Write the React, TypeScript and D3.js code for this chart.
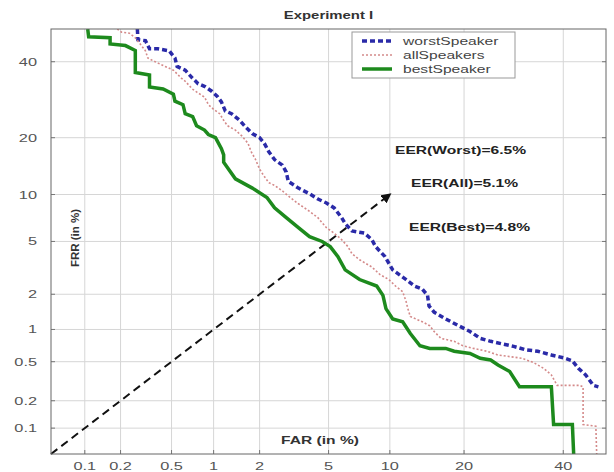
import React from 'react';
import * as d3 from 'd3';

// DET curves, values in percent (FAR, FRR)
const worstFar = [0.273, 0.276, 0.316, 0.34, 0.394, 0.48, 0.53, 0.55, 0.63, 0.71, 0.78, 0.87, 0.97, 1.06, 1.13, 1.2, 1.32, 1.49, 1.64, 1.8, 2.0, 2.14, 2.28, 2.47, 2.75, 2.9, 2.98, 3.41, 3.94, 4.38, 4.87, 5.35, 5.85, 6.1, 6.6, 7.6, 8.25, 8.6, 9.5, 10.3, 11.8, 12.8, 13.8, 14.5, 14.7, 15.4, 17.1, 19.1, 21.0, 22.8, 24.7, 26.8, 29.2, 31.7, 34.3, 37.3, 40.4, 42.1, 43.5, 45.2, 47.0, 48.2];
const worstFrr = [50, 46.7, 46.4, 43.9, 43.9, 43.3, 41.1, 38.6, 37.5, 35.2, 33.6, 32.8, 31.5, 30.1, 28.6, 26.3, 25.6, 24.0, 22.3, 20.9, 20.0, 18.8, 17.1, 15.6, 14.6, 13.4, 11.9, 10.9, 10.1, 9.4, 8.9, 8.3, 7.2, 6.6, 5.9, 5.7, 5.15, 4.6, 3.9, 3.11, 2.62, 2.33, 2.2, 1.96, 1.6, 1.42, 1.24, 1.08, 0.96, 0.83, 0.78, 0.74, 0.7, 0.65, 0.63, 0.58, 0.54, 0.51, 0.43, 0.37, 0.29, 0.28];

const allFar = [0.188, 0.204, 0.236, 0.263, 0.316, 0.33, 0.394, 0.448, 0.516, 0.59, 0.63, 0.71, 0.76, 0.865, 0.92, 1.0, 1.1, 1.17, 1.24, 1.4, 1.54, 1.69, 1.77, 1.88, 2.0, 2.11, 2.28, 2.47, 2.75, 3.06, 3.41, 3.94, 4.38, 4.87, 5.35, 5.85, 6.3, 6.6, 7.2, 8.25, 9.0, 9.9, 10.6, 11.4, 11.8, 12.0, 12.3, 13.8, 14.8, 15.4, 16.4, 18.4, 19.8, 21.6, 24.0, 26.1, 28.4, 30.9, 33.4, 35.6, 37.3, 38.6, 43.8, 44.6, 44.6, 47.6, 47.8];
const allFrr = [50, 49, 48.7, 47.3, 43.3, 41.1, 39.6, 38.6, 37.5, 35.2, 34.3, 32.1, 31.3, 29.9, 27.9, 26.7, 25.6, 24.0, 22.7, 21.7, 20.4, 18.8, 17.1, 15.7, 13.9, 12.9, 11.7, 11.3, 10.5, 9.6, 8.8, 7.9, 7.2, 6.2, 5.7, 5.15, 4.6, 4.1, 3.7, 3.27, 2.87, 2.62, 2.33, 2.1, 1.74, 1.52, 1.3, 1.17, 1.08, 0.96, 0.83, 0.78, 0.71, 0.67, 0.63, 0.58, 0.56, 0.54, 0.49, 0.43, 0.37, 0.29, 0.29, 0.28, 0.11, 0.105, 0.05];

const bestFar = [0.106, 0.108, 0.164, 0.164, 0.219, 0.263, 0.263, 0.34, 0.34, 0.432, 0.516, 0.53, 0.607, 0.63, 0.713, 0.76, 0.865, 0.92, 1.03, 1.13, 1.17, 1.17, 1.4, 1.8, 2.22, 2.47, 2.9, 3.41, 3.94, 4.62, 5.1, 5.6, 6.1, 7.2, 8.7, 9.3, 9.6, 10.3, 11.4, 12.3, 13.5, 14.8, 17.1, 18.4, 21.0, 22.8, 24.7, 26.1, 28.4, 30.4, 37.3, 37.8, 42.1, 42.4];
const bestFrr = [50, 47.6, 47.3, 45.4, 44.9, 43.4, 36.8, 36.1, 32.7, 32.1, 30.7, 28.8, 27.9, 25.6, 24.9, 22.7, 21.7, 20.7, 20.0, 17.7, 16.5, 15.1, 12.3, 10.9, 9.6, 8.3, 7.2, 6.2, 5.4, 5.0, 4.6, 3.9, 3.11, 2.62, 2.33, 1.96, 1.52, 1.24, 1.17, 0.92, 0.71, 0.67, 0.67, 0.63, 0.6, 0.54, 0.52, 0.465, 0.4, 0.28, 0.28, 0.11, 0.11, 0.05];

const tickValues = [0.1, 0.2, 0.5, 1, 2, 5, 10, 20, 40];
const tickLabels = ['0.1', '0.2', '0.5', '1', '2', '5', '10', '20', '40'];
const eerLabels = ['EER(Worst)=6.5%', 'EER(All)=5.1%', 'EER(Best)=4.8%'];
const legendNames = ['worstSpeaker', 'allSpeakers', 'bestSpeaker'];

// inverse normal CDF (Acklam)
function probit(p: number): number {
  const a = [-39.69683028665376, 220.9460984245205, -275.9285104469687, 138.357751867269, -30.66479806614716, 2.506628277459239];
  const b = [-54.47609879822406, 161.5858368580409, -155.6989798598866, 66.80131188771972, -13.28068155288572];
  const c = [-0.007784894002430293, -0.3223964580411365, -2.400758277161838, -2.549732539343734, 4.374664141464968, 2.938163982698783];
  const d = [0.007784695709041462, 0.3224671290700398, 2.445134137142996, 3.754408661907416];
  const pl = 0.02425;
  if (p < pl) {
    const q = Math.sqrt(-2 * Math.log(p));
    return (((((c[0] * q + c[1]) * q + c[2]) * q + c[3]) * q + c[4]) * q + c[5]) / ((((d[0] * q + d[1]) * q + d[2]) * q + d[3]) * q + 1);
  }
  if (p <= 1 - pl) {
    const q = p - 0.5;
    const r = q * q;
    return (((((a[0] * r + a[1]) * r + a[2]) * r + a[3]) * r + a[4]) * r + a[5]) * q / (((((b[0] * r + b[1]) * r + b[2]) * r + b[3]) * r + b[4]) * r + 1);
  }
  const q = Math.sqrt(-2 * Math.log(1 - p));
  return -(((((c[0] * q + c[1]) * q + c[2]) * q + c[3]) * q + c[4]) * q + c[5]) / ((((d[0] * q + d[1]) * q + d[2]) * q + d[3]) * q + 1);
}

const L = 51, R = 606, T = 29, B = 454;
const dom = [probit(0.0005), probit(0.5)];
const xs = d3.scaleLinear().domain(dom).range([L, R]);
const ys = d3.scaleLinear().domain(dom).range([B, T]);
const x = (v: number) => xs(probit(v / 100));
const y = (v: number) => ys(probit(v / 100));

const line = d3.line<[number, number]>().x(d => x(d[0])).y(d => y(d[1]));
const zip = (a: number[], b: number[]) => a.map((v, i) => [v, b[i]] as [number, number]);

const font = 'Liberation Sans, Arial, sans-serif';
const SX = 1.42; // the source image is stretched horizontally

function T_({ x, y, children, anchor = 'start', size = 11, bold = false, fill = '#444', rot = 0 }: any) {
  const tf = rot ? `translate(${x},${y}) rotate(${rot}) scale(${SX},1)` : `translate(${x},${y}) scale(${SX},1)`;
  return (
    <text transform={tf} textAnchor={anchor} fontSize={size} fontWeight={bold ? 'bold' : 'normal'} fill={fill}>{children}</text>
  );
}

export default function App() {
  const series = [
    { name: legendNames[0], d: zip(worstFar, worstFrr), color: '#2a2aa8', w: 3.5, dash: '5,3' },
    { name: legendNames[1], d: zip(allFar, allFrr), color: '#d48a8a', w: 1.6, dash: '2,2' },
    { name: legendNames[2], d: zip(bestFar, bestFrr), color: '#1d8a1d', w: 3.5, dash: undefined },
  ];
  return (
    <svg width={614} height={472} style={{ position: 'absolute', left: 0, top: 0, background: '#fff' }} fontFamily={font}>
      <defs>
        <clipPath id="plot"><rect x={L} y={T} width={R - L} height={B - T} /></clipPath>
        <marker id="arrow" viewBox="0 0 10 10" refX={8} refY={5} markerWidth={5} markerHeight={5} orient="auto">
          <path d="M0,0 L10,5 L0,10 z" fill="#111" />
        </marker>
      </defs>
      <T_ x={(L + R) / 2} y={19} anchor="middle" size={10.5} bold fill="#333">Experiment I</T_>
      <rect x={L} y={T} width={R - L} height={B - T} fill="#fff" />
      {tickValues.map((t, i) => (
        <g key={'g' + i}>
          <line x1={x(t)} x2={x(t)} y1={T} y2={B} stroke="#d6d6d6" strokeWidth={1} />
          <line x1={L} x2={R} y1={y(t)} y2={y(t)} stroke="#d6d6d6" strokeWidth={1} />
          <line x1={x(t)} x2={x(t)} y1={B} y2={B - 4} stroke="#777" />
          <line x1={L} x2={L + 4} y1={y(t)} y2={y(t)} stroke="#777" />
          <line x1={R} x2={R - 4} y1={y(t)} y2={y(t)} stroke="#777" />
          <T_ x={x(t)} y={470} anchor="middle" size={11.5} fill="#555">{tickLabels[i]}</T_>
          <T_ x={37} y={y(t) + 4} anchor="end" size={11.5} fill="#555">{tickLabels[i]}</T_>
        </g>
      ))}
      <line x1={x(0.05)} y1={y(0.05)} x2={x(10)} y2={y(10)} stroke="#111" strokeWidth={2} strokeDasharray="8,5" markerEnd="url(#arrow)" />
      <g clipPath="url(#plot)">
        {series.map(s => (
          <path key={s.name} d={line(s.d) || ''} fill="none" stroke={s.color} strokeWidth={s.w} strokeDasharray={s.dash} />
        ))}
      </g>
      <rect x={L} y={T} width={R - L} height={B - T} fill="none" stroke="#666" strokeWidth={1} />
      <g>
        <rect x={352} y={32} width={163} height={46} fill="#fff" stroke="#999" />
        {series.map((s, i) => (
          <g key={'l' + i}>
            <line x1={362} x2={392} y1={41 + i * 14} y2={41 + i * 14} stroke={s.color} strokeWidth={s.w} strokeDasharray={s.dash} />
            <T_ x={403} y={45 + i * 14} size={11}>{s.name}</T_>
          </g>
        ))}
      </g>
      <T_ x={395} y={154} size={11} bold fill="#222">{eerLabels[0]}</T_>
      <T_ x={411} y={187} size={11} bold fill="#222">{eerLabels[1]}</T_>
      <T_ x={409} y={231} size={11} bold fill="#222">{eerLabels[2]}</T_>
      <T_ x={320} y={444} anchor="middle" size={11} bold fill="#333">FAR (in %)</T_>
      <text transform="translate(79,238) rotate(-90)" textAnchor="middle" fontSize={11} fontWeight="bold" fill="#333" textLength={58} lengthAdjust="spacingAndGlyphs">FRR (in %)</text>
    </svg>
  );
}
